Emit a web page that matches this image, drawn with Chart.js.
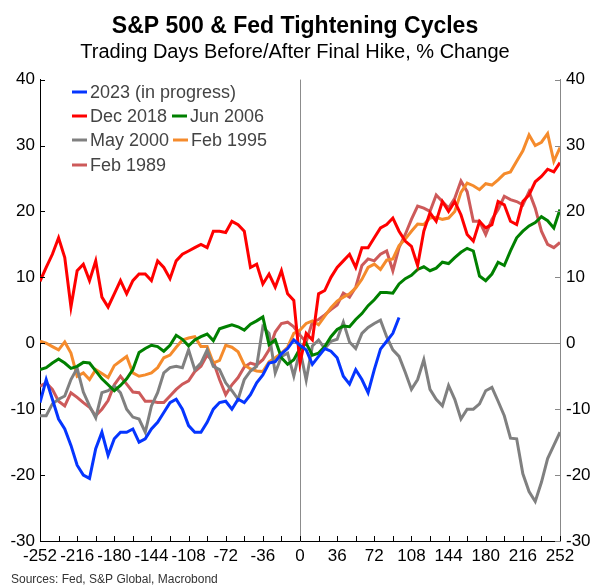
<!DOCTYPE html>
<html>
<head>
<meta charset="utf-8">
<script src="https://cdn.jsdelivr.net/npm/chart.js@4.4.1/dist/chart.umd.min.js"></script>
<style>
  html, body { margin: 0; padding: 0; background: #fff; }
</style>
</head>
<body>
<canvas id="myChart" width="590" height="588"></canvas>
<script>
// dias de trading antes/despues de la ultima subida (cada 6 dias)
const dias = [-252, -246, -240, -234, -228, -222, -216, -210, -204, -198, -192, -186, -180, -174, -168, -162, -156, -150, -144, -138,
  -132, -126, -120, -114, -108, -102, -96, -90, -84, -78, -72, -66, -60, -54, -48, -42, -36, -30, -24, -18,
  -12, -6, 0, 6, 12, 18, 24, 30, 36, 42, 48, 54, 60, 66, 72, 78, 84, 90, 96, 102,
  108, 114, 120, 126, 132, 138, 144, 150, 156, 162, 168, 174, 180, 186, 192, 198, 204, 210, 216, 222,
  228, 234, 240, 246, 252];

const serie2023 = [-9.0, -5.5, -8.5, -11.5, -13.0, -15.5, -18.5, -20.0, -20.5, -16.0,
  -13.5, -17.0, -14.5, -13.5, -13.5, -13.0, -15.0, -14.5, -13.0, -12.0,
  -10.5, -9.0, -8.5, -10.0, -12.5, -13.5, -13.5, -12.0, -10.0, -9.0,
  -8.8, -10.0, -8.5, -9.0, -7.8, -6.0, -4.8, -3.0, -2.8, -1.6,
  -0.8, 0.5, -0.3, -1.0, -3.2, -2.0, -0.8, -1.2, -2.2, -5.0,
  -6.2, -4.0, -5.5, -7.5, -4.0, -0.9, 0.3, 1.5, 3.9];

const serieDic2018 = [9.4, 11.5, 13.5, 16.0, 13.0, 5.5, 11.0, 12.0, 9.5, 12.5,
  7.0, 5.5, 7.5, 9.5, 7.5, 9.5, 10.5, 10.5, 9.5, 12.5,
  11.5, 9.8, 12.5, 13.5, 14.0, 14.5, 15.0, 14.5, 17.0, 17.0,
  16.8, 18.5, 18.0, 17.0, 11.5, 12.0, 9.0, 10.5, 8.5, 11.0,
  7.5, 6.5, -3.0, 1.5, 0.5, 7.5, 8.0, 10.0, 11.5, 12.5,
  13.5, 11.5, 14.5, 14.5, 16.0, 17.5, 18.0, 19.0, 17.0, 15.5,
  14.7, 11.8, 17.0, 19.8, 18.5, 21.5, 20.0, 21.5, 19.5, 16.5,
  15.5, 18.5, 17.5, 18.0, 21.5, 21.0, 18.5, 18.0, 21.5, 22.5,
  24.5, 25.3, 26.4, 26.0, 27.4];

const serieJun2006 = [-4.0, -3.7, -3.0, -2.4, -3.0, -3.8, -3.5, -2.9, -3.0, -4.2,
  -5.4, -6.3, -7.2, -6.4, -5.4, -4.0, -1.4, -0.8, -0.3, -0.5,
  -1.2, -0.3, 1.2, 0.6, -0.4, 0.5, 1.0, 1.4, 0.4, 2.2,
  2.5, 2.8, 2.5, 2.0, 2.9, 3.4, 4.0, -0.2, 0.5, -2.2,
  -3.2, -2.5, -0.8, 0.0, -1.8, -1.5, -0.5, 1.0, 2.1, 2.6,
  2.5, 3.6, 4.5, 5.7, 6.6, 7.7, 7.7, 7.6, 9.0, 9.8,
  10.3, 11.2, 11.6, 11.0, 11.4, 12.3, 12.1, 13.0, 13.8, 14.4,
  14.0, 10.2, 9.5, 10.5, 12.3, 11.8, 14.0, 16.0, 17.0, 17.8,
  18.3, 19.2, 18.6, 17.5, 20.3];

const serieMay2000 = [-11.0, -11.0, -9.2, -8.5, -8.0, -5.5, -3.8, -7.4, -9.5, -11.3,
  -7.5, -7.2, -6.5, -7.5, -10.0, -11.2, -11.5, -13.5, -9.5, -7.5,
  -4.5, -3.7, -3.5, -3.7, -1.0, -4.0, -3.0, -1.0, -3.5, -4.0,
  -6.0, -7.2, -8.5, -5.5, -4.2, -3.5, 2.5, 1.5, -4.5, -2.0,
  -1.5, -5.0, -1.0, -5.6, -0.4, 0.5, -0.8, 0.3, 0.6, 3.2,
  0.2, -0.8, 1.5, 2.4, 3.0, 3.5, 1.0, -1.0, -2.0, -4.4,
  -7.0, -5.5, -2.5, -7.0, -8.5, -9.5, -6.4, -8.5, -11.5, -10.0,
  -10.0, -9.2, -7.2, -6.7, -8.8, -11.0, -14.4, -14.5, -19.8, -22.5,
  -24.0, -21.1, -17.5, -15.5, -13.5];

const serieFeb1995 = [0.3, 0.0, -0.5, -1.0, 0.2, -1.5, -5.0, -4.5, -5.5, -4.0,
  -4.6, -5.2, -3.4, -2.7, -2.0, -4.5, -5.0, -4.8, -4.5, -3.7,
  -2.2, -1.8, -0.6, 0.5, 0.8, 1.0, -0.5, -0.5, -3.0, -2.6,
  -0.3, -0.6, -1.3, -3.3, -3.9, -4.2, -4.3, -2.8, -2.2, -1.5,
  -0.6, 1.5, 2.0, 3.0, 3.4, 2.8, 4.1, 5.4, 6.4, 7.0,
  7.5, 8.4, 9.7, 11.5, 12.0, 11.2, 12.6, 12.8, 14.8, 15.8,
  17.0, 18.1, 18.0, 19.0, 19.1, 18.8, 19.0, 20.0, 22.9, 24.3,
  23.9, 23.3, 24.2, 24.0, 24.8, 25.7, 26.0, 27.6, 29.2, 31.6,
  30.0, 30.5, 31.8, 27.6, 29.7];

const serieFeb1989 = [-6.5, -6.0, -7.0, -8.8, -9.5, -7.5, -8.2, -9.0, -9.7, -11.0,
  -10.0, -8.7, -6.3, -5.0, -6.2, -7.4, -7.5, -8.8, -8.8, -9.0,
  -9.0, -8.0, -7.0, -6.2, -5.7, -4.3, -3.5, -1.8, -2.8, -5.5,
  -7.8, -6.3, -5.2, -3.6, -3.0, -3.3, -2.5, -1.0, 1.7, 3.0,
  3.2, 2.5, 1.2, 0.2, 3.2, 3.6, 4.3, 5.1, 5.8, 7.6,
  7.0, 8.5, 11.8, 12.8, 12.5, 13.5, 14.0, 11.0, 14.5, 16.5,
  18.8, 20.8, 20.5, 20.0, 22.5, 21.5, 20.5, 22.0, 24.6, 23.0,
  18.5, 18.5, 16.5, 18.8, 20.3, 22.3, 21.8, 21.5, 21.0, 23.0,
  20.5, 17.0, 15.0, 14.5, 15.3];

const etiquetas = ['2023 (in progress)', 'Dec 2018', 'Jun 2006', 'May 2000', 'Feb 1995', 'Feb 1989'];
const colores = ['#0535ff', '#ff0000', '#008000', '#808080', '#f58b2c', '#cd5a5a'];
const series = [serie2023, serieDic2018, serieJun2006, serieMay2000, serieFeb1995, serieFeb1989];

const fuente = "'Liberation Sans', Arial, sans-serif";

function puntos(serie) {
    return serie.map((v, i) => ({ x: dias[i], y: v }));
}

// leyenda dentro del grafico, arriba a la izquierda
const leyendaPos = [
    { x: 72, y: 92 }, { x: 72, y: 116 }, { x: 172, y: 116 },
    { x: 72, y: 140 }, { x: 173, y: 140 }, { x: 72, y: 165 }
];

const extras = {
    id: 'extras',
    afterDraw(chart) {
        const c = chart.ctx;
        const area = chart.chartArea;
        const sx = chart.scales.x, sy = chart.scales.y;
        c.save();
        // marcas de los ejes hacia dentro
        c.lineWidth = 1;
        c.strokeStyle = '#000';
        for (let d = -252; d <= 252; d += 18) {
            const px = Math.round(sx.getPixelForValue(d)) + 0.5;
            c.beginPath();
            c.moveTo(px, area.bottom);
            c.lineTo(px, area.bottom - 5);
            c.stroke();
        }
        for (let v = -30; v <= 40; v += 10) {
            const py = Math.round(sy.getPixelForValue(v)) + 0.5;
            c.strokeStyle = '#000';
            c.beginPath();
            c.moveTo(area.left, py);
            c.lineTo(area.left + 5, py);
            c.stroke();
            c.strokeStyle = '#888';
            c.beginPath();
            c.moveTo(area.right, py);
            c.lineTo(area.right - 5, py);
            c.stroke();
        }
        // leyenda
        c.font = '18px ' + fuente;
        c.textBaseline = 'middle';
        c.textAlign = 'left';
        leyendaPos.forEach((p, i) => {
            c.strokeStyle = colores[i];
            c.lineWidth = 3;
            c.beginPath();
            c.moveTo(p.x, p.y);
            c.lineTo(p.x + 15, p.y);
            c.stroke();
            c.fillStyle = '#444';
            c.fillText(etiquetas[i], p.x + 18, p.y + 1);
        });
        // fuente de datos
        c.font = '12px ' + fuente;
        c.fillStyle = '#333';
        c.fillText('Sources: Fed, S&P Global, Macrobond', 11, 580);
        c.restore();
    }
};

const ctx = document.getElementById('myChart');

new Chart(ctx, {
    type: 'line',
    data: {
        datasets: series.map((s, i) => ({
            label: etiquetas[i],
            data: puntos(s),
            borderColor: colores[i],
            borderWidth: 3,
            pointRadius: 0,
            tension: 0,
            fill: false
        }))
    },
    options: {
        responsive: false,
        animation: false,
        devicePixelRatio: 1,
        layout: { padding: { left: 0, right: 0, top: 0, bottom: 0 } },
        plugins: {
            legend: { display: false },
            tooltip: { enabled: false },
            title: {
                display: true,
                text: 'S&P 500 & Fed Tightening Cycles',
                color: '#000',
                font: { family: fuente, size: 23, weight: 'bold' },
                padding: { top: 13, bottom: 0 }
            },
            subtitle: {
                display: true,
                text: 'Trading Days Before/After Final Hike, % Change',
                color: '#000',
                font: { family: fuente, size: 20 },
                padding: { top: 0, bottom: 15 }
            }
        },
        scales: {
            x: {
                type: 'linear',
                min: -252,
                max: 252,
                afterFit: s => { s.height = 47; },
                border: { color: '#000', width: 1 },
                grid: {
                    drawTicks: false,
                    color: c => (c.tick && c.tick.value === 0) ? '#8c8c8c' : 'rgba(0,0,0,0)'
                },
                ticks: {
                    stepSize: 18,
                    autoSkip: false,
                    maxRotation: 0,
                    padding: 5,
                    color: '#000',
                    font: { family: fuente, size: 17 },
                    callback: v => (v % 36 === 0) ? String(v) : ''
                }
            },
            y: {
                type: 'linear',
                position: 'left',
                min: -30,
                max: 40,
                afterFit: s => { s.width = 40; },
                border: { color: '#000', width: 1 },
                grid: {
                    drawTicks: false,
                    color: c => (c.tick && c.tick.value === 0) ? '#8c8c8c' : 'rgba(0,0,0,0)'
                },
                ticks: { stepSize: 10, padding: 5, color: '#000', font: { family: fuente, size: 17 } }
            },
            y2: {
                type: 'linear',
                position: 'right',
                min: -30,
                max: 40,
                afterFit: s => { s.width = 30; },
                border: { color: '#888', width: 1 },
                grid: { display: false, drawTicks: false },
                ticks: { stepSize: 10, padding: 6, color: '#000', font: { family: fuente, size: 17 } }
            }
        }
    },
    plugins: [extras]
});
</script>
</body>
</html>
